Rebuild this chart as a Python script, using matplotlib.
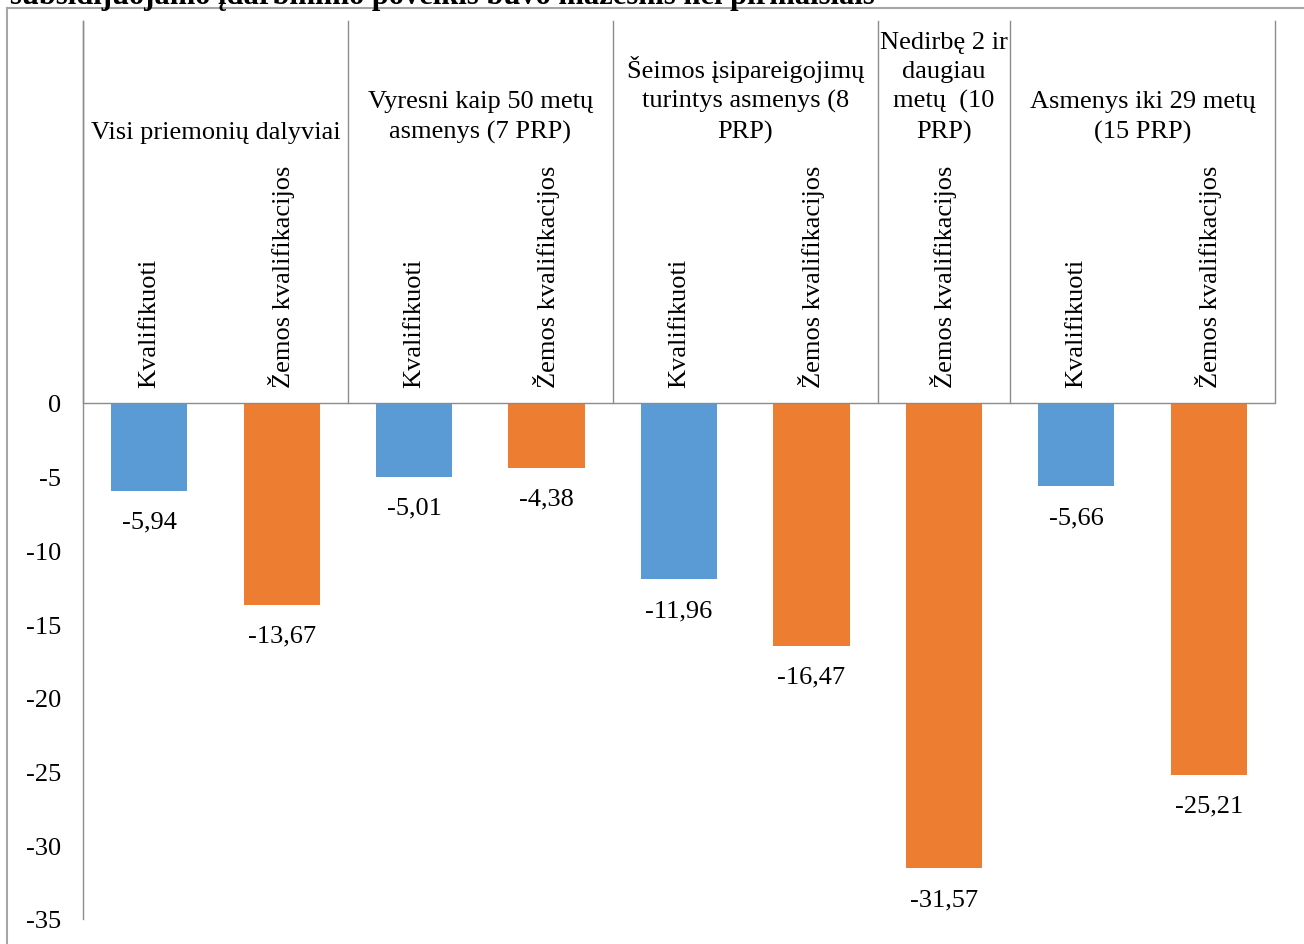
import matplotlib
matplotlib.use("Agg")
import matplotlib.pyplot as plt
from matplotlib.lines import Line2D

plt.rcParams["font.family"] = ["Liberation Serif", "DejaVu Serif"]

# Groups of participants and the categories inside each group
groups = [
    "Visi priemonių dalyviai",
    "Vyresni kaip 50 metų\nasmenys (7 PRP)",
    "Šeimos įsipareigojimų\nturintys asmenys (8\nPRP)",
    "Nedirbę 2 ir\ndaugiau\nmetų  (10\nPRP)",
    "Asmenys iki 29 metų\n(15 PRP)",
]
group_sizes = [2, 2, 2, 1, 2]
categories = [
    "Kvalifikuoti", "Žemos kvalifikacijos",
    "Kvalifikuoti", "Žemos kvalifikacijos",
    "Kvalifikuoti", "Žemos kvalifikacijos",
    "Žemos kvalifikacijos",
    "Kvalifikuoti", "Žemos kvalifikacijos",
]
values = [-5.94, -13.67, -5.01, -4.38, -11.96, -16.47, -31.57, -5.66, -25.21]
yticks = [0, -5, -10, -15, -20, -25, -30, -35]

BLUE = "#5B9BD5"
ORANGE = "#ED7D31"
AXIS_GRAY = "#8C8C8C"
FRAME_GRAY = "#A6A6A6"
FS = 19

W, H = 1304, 945
fig = plt.figure(figsize=(W / 100, H / 100), dpi=100)

# Plot area in pixel terms
left_px, right_px, top_px, bottom_px = 83, 1275, 22, 920
ax = fig.add_axes([left_px / W, 1 - bottom_px / H,
                   (right_px - left_px) / W, (bottom_px - top_px) / H])

ymin = -35
zero_px = 404
unit = (bottom_px - zero_px) / 35.0
ymax = (zero_px - top_px) / unit

n = len(values)
ax.set_xlim(-0.5, n - 0.5)
ax.set_ylim(ymin, ymax)

colors = [BLUE if c == "Kvalifikuoti" else ORANGE for c in categories]
ax.bar(range(n), values, width=0.575, color=colors, zorder=2)

# Value labels under each bar
for i, v in enumerate(values):
    ax.annotate(f"{v:.2f}".replace(".", ","), xy=(i, v), xytext=(0, -31),
                textcoords="offset pixels", ha="center", va="center",
                fontsize=FS, color="black")

# Category labels, rotated, standing on the zero line
for i, c in enumerate(categories):
    ax.annotate(c, xy=(i, 0), xytext=(0, 16), textcoords="offset pixels",
                rotation=90, ha="center", va="bottom", fontsize=FS,
                color="black")

# Group separators and group titles
ax.axhline(0, color=AXIS_GRAY, lw=1.0, zorder=3)
edge = -0.5
for g, size in zip(groups, group_sizes):
    ax.plot([edge, edge], [0, ymax], color=AXIS_GRAY, lw=1.0,
            clip_on=False, zorder=3)
    mid = edge + size / 2.0
    ax.annotate(g, xy=(mid, ymax), xytext=(0, -(144 - top_px)),
                textcoords="offset pixels", ha="center", va="bottom",
                multialignment="center", fontsize=FS, linespacing=1.42,
                color="black")
    edge += size
ax.plot([edge, edge], [0, ymax], color=AXIS_GRAY, lw=1.0,
        clip_on=False, zorder=3)

# Value axis
ax.set_yticks(yticks)
ax.set_yticklabels([str(t) for t in yticks], fontsize=FS)
ax.tick_params(axis="y", length=0, pad=16)
ax.set_xticks([])
for s in ["top", "right", "bottom"]:
    ax.spines[s].set_visible(False)
ax.spines["left"].set_color(AXIS_GRAY)
ax.spines["left"].set_linewidth(1.0)
ax.patch.set_visible(False)

# Outer chart frame
fig.add_artist(Line2D([7 / W, 7 / W], [0, 1 - 9 / H], color=FRAME_GRAY,
                      lw=1.5, transform=fig.transFigure))
fig.add_artist(Line2D([7 / W, 1], [1 - 9 / H, 1 - 9 / H], color=FRAME_GRAY,
                      lw=1.5, transform=fig.transFigure))

# Heading line running off the top edge
fig.text(10 / W, 1 - 4 / H,
         "subsidijuojamo įdarbinimo poveikis buvo mažesnis nei pirmaisiais",
         ha="left", va="baseline", fontsize=22, fontweight="bold",
         color="black")

fig.savefig("out.png", dpi=100)
